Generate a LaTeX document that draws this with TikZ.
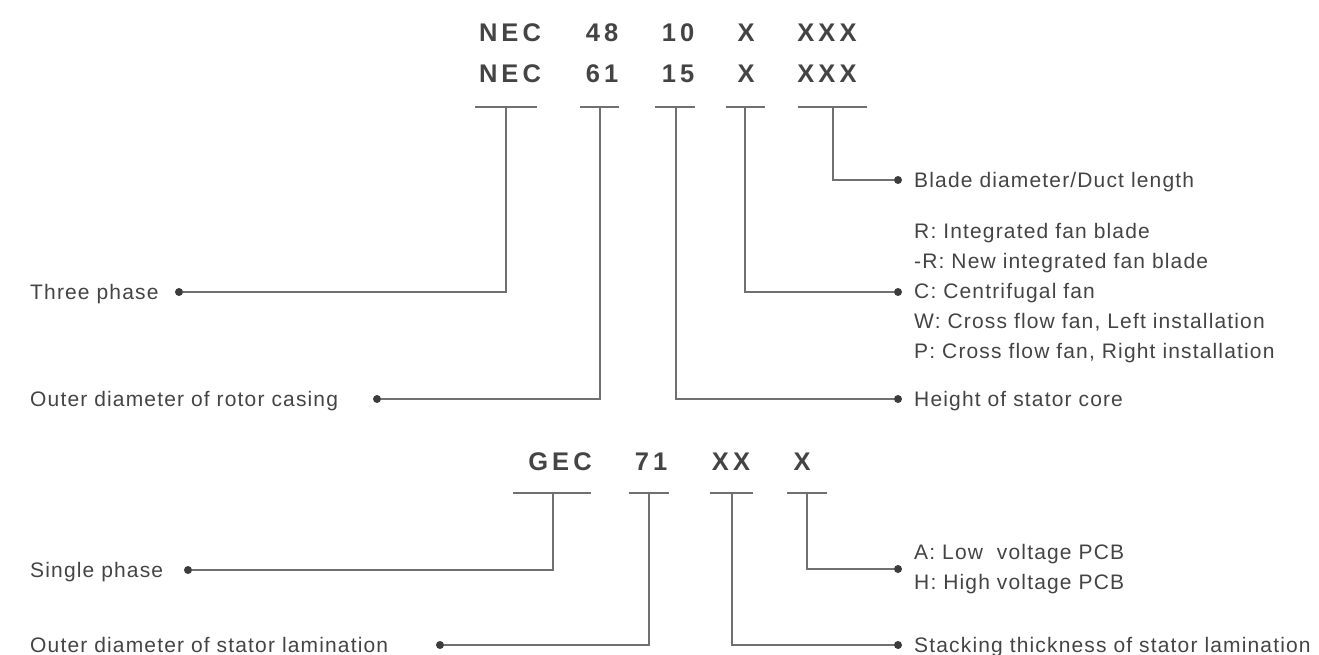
\documentclass[tikz,border=0pt]{standalone}
\usepackage{fontspec}
\setmainfont{Liberation Sans}
\newfontfamily\codefont[LetterSpace=16]{Liberation Sans}
\newfontfamily\labelfont[LetterSpace=5.5]{Liberation Sans}
\definecolor{ink}{HTML}{444444}
\definecolor{wirec}{HTML}{707070}
\definecolor{dotc}{HTML}{3C3C3C}
\begin{document}
\begin{tikzpicture}[x=1pt,y=-1pt,
	code/.style={font=\codefont\bfseries\fontsize{25.5}{30}\selectfont,text=ink,anchor=base,inner sep=0pt},
	lbl/.style={font=\labelfont\fontsize{21}{25}\selectfont,text=ink,anchor=base west,inner sep=0pt},
	dot/.style={circle,fill=dotc,inner sep=0pt,minimum size=8pt},
	wire/.style={draw=wirec,line width=1.4pt}]
		\useasboundingbox (0,0) rectangle (1319,654);
		\node[code] (nec1) at (510,41) {NEC};
		\node[code] (d48) at (602,41) {48};
		\node[code] (d10) at (678,41) {10};
		\node[code] (x1) at (746,41) {X};
		\node[code] (xxx1) at (827,41) {XXX};
		\node[code] (nec2) at (510,82) {NEC};
		\node[code] (d61) at (602,82) {61};
		\node[code] (d15) at (678,82) {15};
		\node[code] (x2) at (746,82) {X};
		\node[code] (xxx2) at (827,82) {XXX};
		\node[code] (gec) at (560,470) {GEC};
		\node[code] (d71) at (651,470) {71};
		\node[code] (xx) at (731,470) {XX};
		\node[code] (x3) at (802,470) {X};
		\draw[wire] (475,107) -- (537,107) (580,107) -- (619,107) (655,107) -- (695,107) (726,107) -- (765,107) (798,107) -- (867,107);
		\draw[wire] (513,493) -- (591,493) (629,493) -- (669,493) (710,493) -- (753,493) (787,493) -- (827,493);
		\coordinate (tnec) at (506,107);
		\coordinate (tdia) at (600,107);
		\coordinate (thgt) at (676,107);
		\coordinate (tfan) at (745,107);
		\coordinate (tbld) at (833,107);
		\coordinate (tgec) at (553,493);
		\coordinate (tlam) at (649,493);
		\coordinate (tstk) at (732,493);
		\coordinate (tpcb) at (807,493);
		\node[dot] (dthree) at (179,292) {};
		\node[dot] (drotor) at (377,399) {};
		\node[dot] (dblade) at (898,180) {};
		\node[dot] (dfan) at (898,292) {};
		\node[dot] (dheight) at (898,399) {};
		\node[dot] (dsingle) at (188,570) {};
		\node[dot] (dlam) at (440,645) {};
		\node[dot] (dpcb) at (898,569) {};
		\node[dot] (dstack) at (898,645) {};
		\draw[wire] (tnec) |- (dthree);
		\draw[wire] (tdia) |- (drotor);
		\draw[wire] (thgt) |- (dheight);
		\draw[wire] (tfan) |- (dfan);
		\draw[wire] (tbld) |- (dblade);
		\draw[wire] (tgec) |- (dsingle);
		\draw[wire] (tlam) |- (dlam);
		\draw[wire] (tstk) |- (dstack);
		\draw[wire] (tpcb) |- (dpcb);
		\node[lbl] (three) at (30,299) {Three phase};
		\node[lbl] (rotor) at (30,406) {Outer diameter of rotor casing};
		\node[lbl] (blade) at (914,187) {Blade diameter/Duct length};
		\node[lbl] (r) at (914,238) {R: Integrated fan blade};
		\node[lbl] (nr) at (914,268) {-R: New integrated fan blade};
		\node[lbl] (c) at (914,298) {C: Centrifugal fan};
		\node[lbl] (w) at (914,328) {W: Cross flow fan, Left installation};
		\node[lbl] (p) at (914,358) {P: Cross flow fan, Right installation};
		\node[lbl] (height) at (914,406) {Height of stator core};
		\node[lbl] (single) at (30,577) {Single phase};
		\node[lbl] (lam) at (30,652) {Outer diameter of stator lamination};
		\node[lbl] (a) at (914,559) {A: Low~ voltage PCB};
		\node[lbl] (h) at (914,589) {H: High voltage PCB};
		\node[lbl] (stack) at (914,652) {Stacking thickness of stator lamination};
\end{tikzpicture}
\end{document}
